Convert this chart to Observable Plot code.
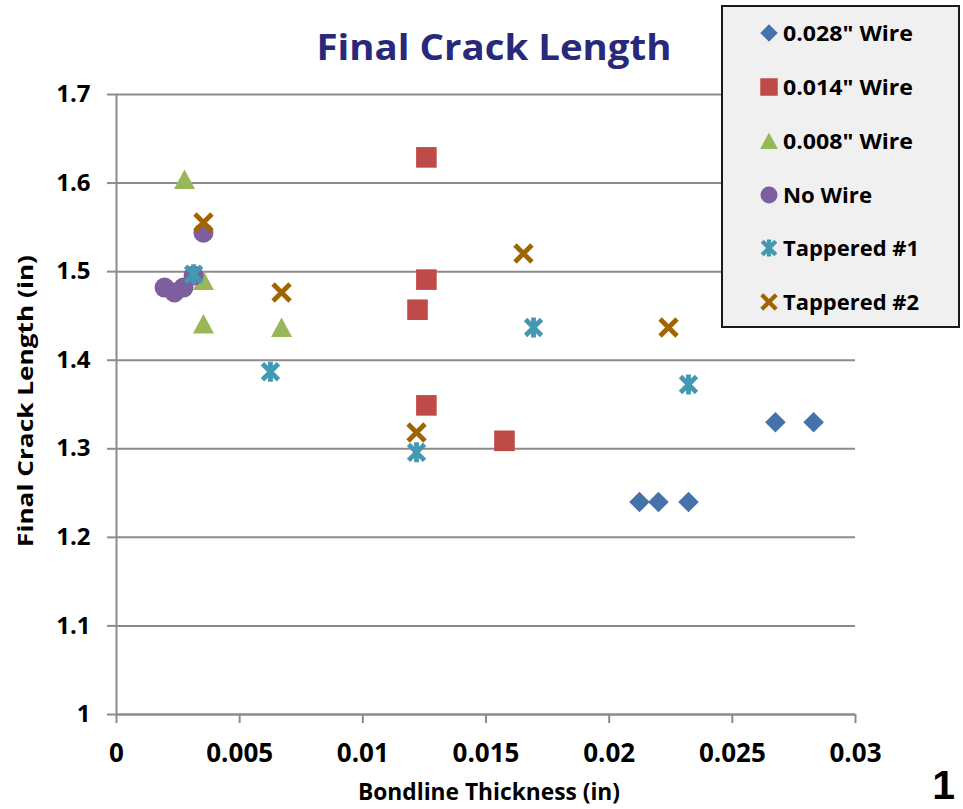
<!DOCTYPE html>
<html><head><meta charset="utf-8">
<script src="https://cdn.jsdelivr.net/npm/d3@7"></script>
<script src="https://cdn.jsdelivr.net/npm/@observablehq/plot@0.6"></script>
<style>
body{margin:0;background:#fff;}
#wrap{position:relative;width:963px;height:809px;overflow:hidden;background:#fff;}
#wrap svg{position:absolute;left:0;top:0;}
</style></head><body><div id="wrap"></div><script>
// ---- data ----
const wire028X = [0.02123, 0.0220, 0.02322, 0.02675, 0.02830];
const wire028Y = [1.24, 1.24, 1.24, 1.33, 1.33];
const wire014X = [0.01258, 0.01258, 0.01222, 0.01258, 0.01575];
const wire014Y = [1.629, 1.491, 1.457, 1.349, 1.309];
const wire008X = [0.00276, 0.00353, 0.00353, 0.0067];
const wire008Y = [1.604, 1.490, 1.441, 1.437];
const noWireX = [0.00195, 0.00235, 0.00272, 0.00313, 0.00353];
const noWireY = [1.482, 1.4765, 1.482, 1.4956, 1.544];
const tap1X = [0.00313, 0.00625, 0.01218, 0.01693, 0.02322];
const tap1Y = [1.497, 1.387, 1.296, 1.437, 1.3726];
const tap2X = [0.00353, 0.0067, 0.01218, 0.01652, 0.02241];
const tap2Y = [1.5555, 1.4765, 1.3184, 1.5205, 1.437];
const seriesNames = ['0.028" Wire', '0.014" Wire', '0.008" Wire', 'No Wire', 'Tappered #1', 'Tappered #2'];
const xTicks = [0, 0.005, 0.01, 0.015, 0.02, 0.025, 0.03];
const yTicks = [1, 1.1, 1.2, 1.3, 1.4, 1.5, 1.6, 1.7];
const titleText = "Final Crack Length";
const xLabel = "Bondline Thickness (in)";
const yLabel = "Final Crack Length (in)";
const cornerText = "1";

// ---- styles ----
const colors = ["#4672AA", "#BE4B48", "#98B757", "#7D5FA0", "#4399B2", "#A06400"];
const gridColor = "#8c8c8c";
const font = "'Open Sans', sans-serif";

// custom marker shapes
const symDiamond = {draw(c){const r=10.3;c.moveTo(0,-r);c.lineTo(r,0);c.lineTo(0,r);c.lineTo(-r,0);c.closePath();}};
const symSquare = {draw(c){const r=10.3;c.moveTo(-r,-r);c.lineTo(r,-r);c.lineTo(r,r);c.lineTo(-r,r);c.closePath();}};
const symTriangle = {draw(c){c.moveTo(0,-10);c.lineTo(10.5,9.5);c.lineTo(-10.5,9.5);c.closePath();}};
const symCircle = {draw(c){c.moveTo(10,0);c.arc(0,0,10,0,2*Math.PI);c.closePath();}};
const symStar = {draw(c){const r=8;c.moveTo(-r,-r);c.lineTo(r,r);c.moveTo(-r,r);c.lineTo(r,-r);c.moveTo(0,-10);c.lineTo(0,10);}};
const symX = {draw(c){const r=8.5;c.moveTo(-r,-r);c.lineTo(r,r);c.moveTo(-r,r);c.lineTo(r,-r);}};
const symbols = [symDiamond, symSquare, symTriangle, symCircle, symStar, symX];
const filled = [true, true, true, true, false, false];

const toRows = (xs, ys) => xs.map((x, i) => ({x, y: ys[i]}));
const seriesData = [
  toRows(wire028X, wire028Y), toRows(wire014X, wire014Y), toRows(wire008X, wire008Y),
  toRows(noWireX, noWireY), toRows(tap1X, tap1Y), toRows(tap2X, tap2Y)
];

const dotMarks = seriesData.map((rows, i) => filled[i]
  ? Plot.dot(rows, {x: "x", y: "y", symbol: symbols[i], r: 10, fill: colors[i], stroke: "none"})
  : Plot.dot(rows, {x: "x", y: "y", symbol: symbols[i], r: 10, fill: "none", stroke: colors[i], strokeWidth: 4.8, strokeLinecap: "butt"}));

const chart = Plot.plot({
  width: 963, height: 809,
  marginLeft: 116, marginRight: 108, marginTop: 94, marginBottom: 95,
  x: {domain: [0, 0.03]},
  y: {domain: [1, 1.7]},
  style: {fontFamily: font, background: "transparent", color: "#000"},
  marks: [
    Plot.gridY(yTicks, {stroke: gridColor, strokeOpacity: 1, strokeWidth: 2}),
    Plot.ruleX([0], {stroke: gridColor, strokeWidth: 2}),
    Plot.ruleY([1], {stroke: gridColor, strokeWidth: 2}),
    Plot.axisY(yTicks, {tickSize: 9, tickPadding: 17, stroke: gridColor, strokeWidth: 2, strokeOpacity: 1,
      fontSize: 24, fontWeight: "bold", fill: "#000", tickFormat: d => String(d), label: null}),
    Plot.axisX(xTicks, {tickSize: 9, tickPadding: 20, stroke: gridColor, strokeWidth: 2, strokeOpacity: 1,
      fontSize: 26, fontWeight: "bold", fill: "#000", tickFormat: d => String(d), label: null}),
    ...dotMarks
  ]
});
document.getElementById("wrap").appendChild(chart);

// ---- overlay: title, axis labels, legend ----
const ov = d3.select("#wrap").append("svg").attr("width", 963).attr("height", 809)
  .style("font-family", font).style("font-weight", "bold");

ov.append("text").attr("x", 494).attr("y", 60).attr("text-anchor", "middle")
  .attr("font-size", 35).attr("fill", "#29297A").attr("textLength", 355).attr("lengthAdjust", "spacingAndGlyphs")
  .text(titleText);

ov.append("text").attr("x", 489).attr("y", 800).attr("text-anchor", "middle")
  .attr("font-size", 23).attr("fill", "#000").attr("textLength", 262).attr("lengthAdjust", "spacingAndGlyphs")
  .text(xLabel);

ov.append("text").attr("transform", "translate(33,401) rotate(-90)").attr("text-anchor", "middle")
  .attr("font-size", 21).attr("fill", "#000").attr("textLength", 292).attr("lengthAdjust", "spacingAndGlyphs")
  .text(yLabel);

ov.append("text").attr("x", 955).attr("y", 799).attr("text-anchor", "end")
  .attr("font-size", 41).attr("font-family", "'Liberation Sans', Arial, sans-serif").attr("fill", "#000")
  .text(cornerText);

// legend
const lg = ov.append("g");
lg.append("rect").attr("x", 722).attr("y", 6).attr("width", 237).attr("height", 321)
  .attr("fill", "#f0f0f0").attr("stroke", "#1a1a1a").attr("stroke-width", 2);
const rowY = [33, 87, 141, 195, 248, 302];
const textW = [130, 130, 130, 89, 136, 136];
seriesNames.forEach((name, i) => {
  const p = d3.symbol().type(symbols[i])();
  const g = lg.append("g").attr("transform", `translate(769,${rowY[i]}) scale(0.85)`);
  if (filled[i]) g.append("path").attr("d", p).attr("fill", colors[i]);
  else g.append("path").attr("d", p).attr("fill", "none").attr("stroke", colors[i]).attr("stroke-width", 5);
  lg.append("text").attr("x", 783).attr("y", rowY[i] + 8).attr("font-size", 21).attr("fill", "#000")
    .attr("textLength", textW[i]).attr("lengthAdjust", "spacingAndGlyphs").text(name);
});
</script></body></html>
